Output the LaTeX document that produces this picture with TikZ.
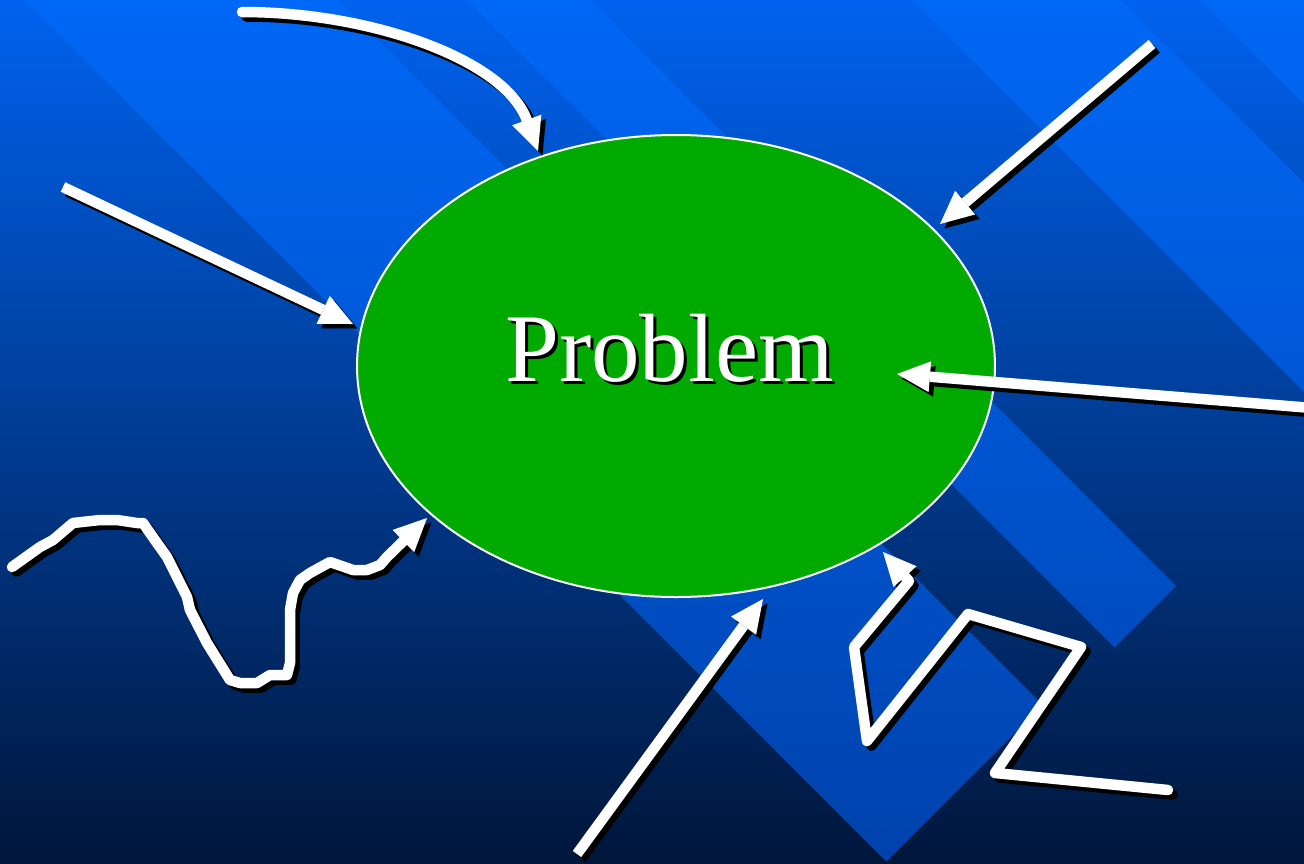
\documentclass[tikz,border=0pt]{standalone}
\usepackage{fontspec}
\setmainfont{Liberation Serif}
\usetikzlibrary{arrows.meta,shapes.geometric}
\definecolor{bgtop}{HTML}{0062EE}
\definecolor{bgmid}{HTML}{003E9C}
\definecolor{bgbot}{HTML}{00163A}
\definecolor{bandtop}{HTML}{0068F6}
\definecolor{bandbot}{HTML}{0042AC}
\definecolor{probgreen}{HTML}{00AA00}
\newcommand\allarrows[1]{%
  \draw[#1, thickline, line cap=round, tipshape] (a1s) .. controls (372,12) and (505,60) .. (a1e);
  \draw[#1, thickline, tipshape] (a2s) -- (a2e);
  \draw[#1, thickline, tipshape] (a3s) -- (a3e);
  \draw[#1, thickline, tipshape] (a4s) -- (a4e);
  \draw[#1, thickline, tipshape] (a5s) -- (a5e);
  \draw[#1, thickline, line cap=round, tipshape] (s0) -- (40,547) -- (53,540) -- (73,523) -- (100,520) -- (117,520)
     -- (137,523) -- (143,523) -- (157,543) -- (167,557) -- (187,597) -- (190,610) -- (207,643)
     -- (230,680) -- (240,683) -- (257,683) -- (270,675) -- (287,675) -- (290,663) -- (290,610)
     -- (293,593) -- (300,580) -- (310,573) -- (330,562) -- (353,570) -- (367,570) -- (380,565)
     -- (387,557) -- (s1);
  \draw[#1, thickline, line cap=round, tipshape] (z0) -- (995,773) -- (1081,647) -- (968,614) -- (867,741)
     -- (854,647) -- (909,581) -- (z1);
}
\newcommand\shadowword[1]{\makebox[0pt][l]{\hspace{3pt}\raisebox{-3pt}{\color{black}#1}}#1}
\begin{document}
\begin{tikzpicture}[x=1pt,y=-1pt,
  tipshape/.style={-{Triangle[length=33pt,width=31pt,line width=0pt]}},
  thickline/.style={line width=10.5pt, line join=round},
  darkcopy/.style={draw=black, fill=none},
  lightcopy/.style={draw=white, fill=none},
  bigword/.style={font=\fontsize{97}{100}\selectfont, inner sep=0pt, anchor=base}]
\useasboundingbox (0,0) rectangle (1304,863);
% background gradient
\shade[top color=bgtop, middle color=bgmid, bottom color=bgbot] (0,0) rectangle (1304,863);
% diagonal bands
\begin{scope}
  \clip (25,0) -- (338,0) -- (1043,705) -- (886.5,861.5) -- cycle;
  \shade[top color=bandtop, bottom color=bandbot] (0,0) rectangle (1304,863);
\end{scope}
\begin{scope}
  \clip (467,0) -- (590,0) -- (1176,586) -- (1114.5,647.5) -- cycle;
  \shade[top color=bandtop, bottom color=bandbot] (0,0) rectangle (1304,863);
\end{scope}
\begin{scope}
  \clip (912,0) -- (1121,0) -- (1304,183) -- (1304,392) -- cycle;
  \shade[top color=bandtop, bottom color=bandbot] (0,0) rectangle (1304,863);
\end{scope}
\begin{scope}
  \clip (1200,0) -- (1304,0) -- (1304,104) -- cycle;
  \shade[top color=bandtop, bottom color=bandbot] (0,0) rectangle (1304,863);
\end{scope}
% central ellipse
\node[ellipse, draw=white, line width=2pt, fill=probgreen, minimum width=638pt, minimum height=462pt, inner sep=0pt] (prob) at (676,366) {};
\node[bigword, text=white] (probtext) at (669.5,381) {\shadowword{Problem}};
% arrow end points
\coordinate (a1s) at (242,12);   \coordinate (a1e) at (538,151);
\coordinate (a2s) at (63,187);   \coordinate (a2e) at (353,324);
\coordinate (a3s) at (1152,44);  \coordinate (a3e) at (940,224);
\coordinate (a4s) at (1312,408); \coordinate (a4e) at (897,374);
\coordinate (a5s) at (577,854);  \coordinate (a5e) at (763,599);
\coordinate (s0) at (12,567);    \coordinate (s1) at (427,518);
\coordinate (z0) at (1168,790);  \coordinate (z1) at (883,552);
% shadows then white arrows
\begin{scope}[transform canvas={shift={(4.5pt,-4.5pt)}}]
  \allarrows{darkcopy}
\end{scope}
\allarrows{lightcopy}
\end{tikzpicture}
\end{document}
